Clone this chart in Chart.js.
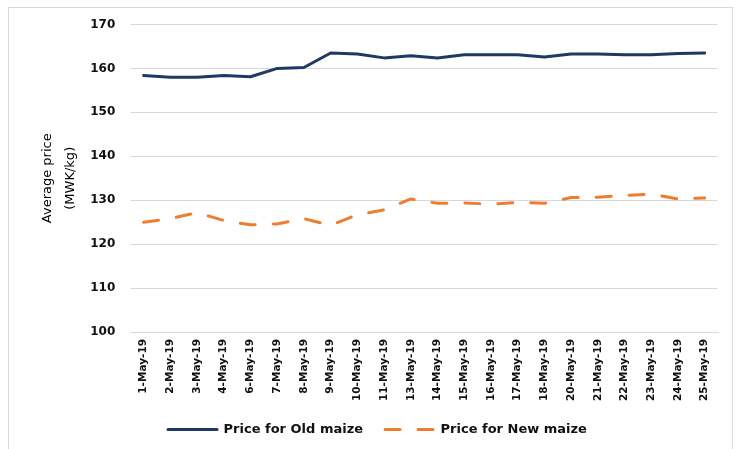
<!DOCTYPE html>
<html>
<head>
<meta charset="utf-8">
<script src="https://cdn.jsdelivr.net/npm/chart.js@4/dist/chart.umd.min.js"></script>
<style>
  html, body { margin: 0; padding: 0; background: #fff; overflow: hidden; }
  #wrap { position: relative; width: 742px; height: 449px; }
  #frame { position: absolute; left: 8px; top: 7px; width: 725px; height: 460px; border: 1px solid #d9d9d9; box-sizing: border-box; }
  canvas { position: absolute; left: 0; top: 0; }
</style>
</head>
<body>
<div id="wrap">
  <div id="frame"></div>
  <canvas id="c" width="742" height="449"></canvas>
</div>
<script>
const categories = ["1-May-19","2-May-19","3-May-19","4-May-19","6-May-19","7-May-19","8-May-19","9-May-19","10-May-19","11-May-19","13-May-19","14-May-19","15-May-19","16-May-19","17-May-19","18-May-19","20-May-19","21-May-19","22-May-19","23-May-19","24-May-19","25-May-19"];
const oldMaize = [158.4,158.0,158.0,158.4,158.1,160.0,160.2,163.5,163.3,162.4,162.9,162.4,163.1,163.1,163.1,162.6,163.3,163.3,163.1,163.1,163.4,163.5];
const newMaize = [125.0,125.8,127.2,125.4,124.4,124.6,125.8,124.3,126.7,127.8,130.3,129.3,129.4,129.1,129.5,129.3,130.6,130.7,131.1,131.4,130.3,130.5];
const yTicks = [100,110,120,130,140,150,160,170];
const seriesNames = ["Price for Old maize","Price for New maize"];
const yTitle = ["Average price","(MWK/kg)"];

new Chart(document.getElementById('c'), {
  type: 'line',
  data: {
    labels: categories,
    datasets: [
      { label: seriesNames[0], data: oldMaize, borderColor: '#203864', backgroundColor: '#203864',
        borderWidth: 3, pointRadius: 0, tension: 0, borderCapStyle: 'round', borderJoinStyle: 'round' },
      { label: seriesNames[1], data: newMaize, borderColor: '#ED7D31', backgroundColor: '#ED7D31',
        borderWidth: 3, pointRadius: 0, tension: 0, borderDash: [15, 18], borderCapStyle: 'round', borderJoinStyle: 'round' }
    ]
  },
  options: {
    responsive: false,
    animation: false,
    devicePixelRatio: 1,
    layout: { padding: { left: 37, right: 24, top: 24.5, bottom: 3 } },
    plugins: {
      legend: {
        position: 'bottom',
        labels: {
          usePointStyle: true,
          pointStyle: 'line',
          pointStyleWidth: 49,
          boxWidth: 51,
          boxHeight: 13,
          padding: 22,
          color: '#111',
          font: { family: 'DejaVu Sans', weight: 'bold', size: 13 },
          generateLabels(chart) {
            const items = Chart.defaults.plugins.legend.labels.generateLabels(chart);
            items.forEach(it => {
              const ds = chart.data.datasets[it.datasetIndex];
              it.pointStyle = 'line';
              it.lineCap = 'round';
              it.lineWidth = ds.borderWidth;
              it.strokeStyle = ds.borderColor;
              it.fillStyle = ds.borderColor;
              it.lineDash = ds.borderDash || [];
            });
            return items;
          }
        }
      },
      tooltip: { enabled: false }
    },
    scales: {
      x: {
        type: 'category',
        offset: true,
        grid: { display: true, drawOnChartArea: false, drawTicks: true, tickLength: 7, tickColor: 'rgba(0,0,0,0)' },
        border: { display: true, color: '#d9d9d9', width: 1 },
        ticks: {
          autoSkip: false, maxRotation: 90, minRotation: 90, padding: 0,
          color: '#111',
          font: { family: 'DejaVu Sans', weight: 'bold', size: 10.5 }
        }
      },
      y: {
        min: 100, max: 170,
        afterBuildTicks(scale) { scale.ticks = yTicks.map(v => ({ value: v })); },
        grid: { color: '#d9d9d9', lineWidth: 1, drawTicks: true, tickLength: 15, tickColor: 'rgba(0,0,0,0)' },
        border: { display: false },
        ticks: {
          padding: 0, color: '#111',
          font: { family: 'DejaVu Sans', weight: 'bold', size: 12 }
        },
        title: {
          display: true, text: yTitle, color: '#000',
          font: { family: 'DejaVu Sans', size: 13, lineHeight: 1.7 },
          padding: { top: 0, bottom: 9 }
        }
      }
    }
  }
});
</script>
</body>
</html>
